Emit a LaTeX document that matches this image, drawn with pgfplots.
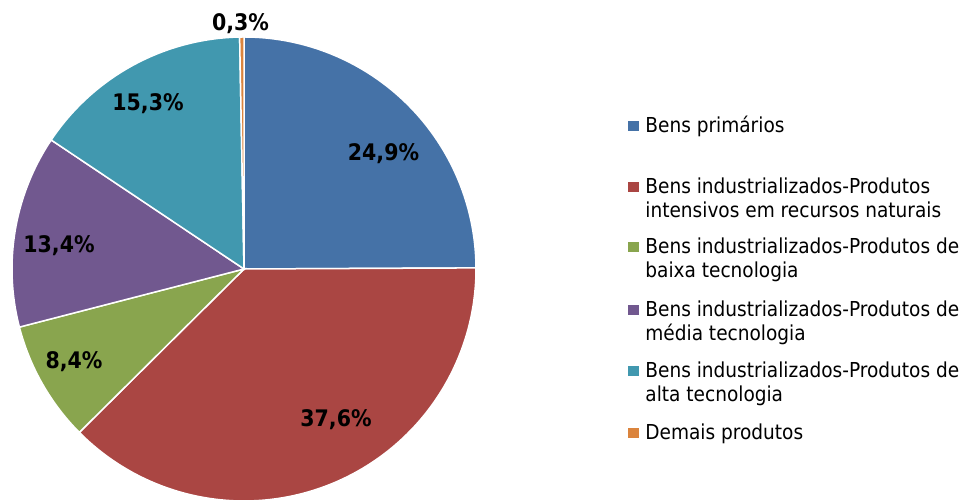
\documentclass[border=0pt]{standalone}
\usepackage{pgfplots}
\pgfplotsset{compat=1.18}
\usepackage{fontspec}
\setmainfont{DejaVu Sans Condensed}
\definecolor{cA}{HTML}{4572A7}
\definecolor{cB}{HTML}{AA4643}
\definecolor{cC}{HTML}{89A54E}
\definecolor{cD}{HTML}{71588F}
\definecolor{cE}{HTML}{4198AF}
\definecolor{cF}{HTML}{DB843D}
% shares (%)
\def\vA{24.9}\def\vB{37.6}\def\vC{8.4}\def\vD{13.4}\def\vE{15.3}\def\vF{0.3}
\begin{document}
\begin{tikzpicture}
\pgfmathsetmacro\tot{\vA+\vB+\vC+\vD+\vE+\vF}
\pgfmathsetmacro\aA{90}
\pgfmathsetmacro\aB{\aA-360*\vA/\tot}
\pgfmathsetmacro\aC{\aB-360*\vB/\tot}
\pgfmathsetmacro\aD{\aC-360*\vC/\tot}
\pgfmathsetmacro\aE{\aD-360*\vD/\tot}
\pgfmathsetmacro\aF{\aE-360*\vE/\tot}
\pgfmathsetmacro\aG{\aF-360*\vF/\tot}
\path[use as bounding box] (0,0) rectangle (482.5pt,249.5pt);
\begin{axis}[
  at={(0,0)}, anchor=south west,
  scale only axis, width=482.5pt, height=249.5pt,
  xmin=0, xmax=965, ymin=0, ymax=499,
  hide axis, clip=true,
  every axis plot/.append style={draw=white, line width=0.75pt, samples=90},
]
\addplot[fill=cA, domain=\aB:\aA] ({244+232*cos(x)},{230+232*sin(x)}) -- (axis cs:244,230) -- cycle;
\addplot[fill=cB, domain=\aC:\aB] ({244+232*cos(x)},{230+232*sin(x)}) -- (axis cs:244,230) -- cycle;
\addplot[fill=cC, domain=\aD:\aC] ({244+232*cos(x)},{230+232*sin(x)}) -- (axis cs:244,230) -- cycle;
\addplot[fill=cD, domain=\aE:\aD] ({244+232*cos(x)},{230+232*sin(x)}) -- (axis cs:244,230) -- cycle;
\addplot[fill=cE, domain=\aF:\aE] ({244+232*cos(x)},{230+232*sin(x)}) -- (axis cs:244,230) -- cycle;
\addplot[fill=cF, domain=\aG:\aF, samples=5] ({244+232*cos(x)},{230+232*sin(x)}) -- (axis cs:244,230) -- cycle;
% data labels
\begin{scope}[every node/.style={font=\fontsize{11.4}{13}\selectfont\bfseries, text=black, inner sep=0pt}]
\node at (axis cs:383.5,345) {24,9\%};
\node at (axis cs:336,79) {37,6\%};
\node at (axis cs:74,137) {8,4\%};
\node at (axis cs:59,253.5) {13,4\%};
\node at (axis cs:148,395) {15,3\%};
\node at (axis cs:240.5,475) {0,3\%};
\end{scope}
% legend squares
\addplot[only marks, mark=square*, mark size=3pt, draw=none, mark options={fill=cA, draw=none}] coordinates {(633.5,373)};
\addplot[only marks, mark=square*, mark size=3pt, draw=none, mark options={fill=cB, draw=none}] coordinates {(633.5,312)};
\addplot[only marks, mark=square*, mark size=3pt, draw=none, mark options={fill=cC, draw=none}] coordinates {(633.5,252)};
\addplot[only marks, mark=square*, mark size=3pt, draw=none, mark options={fill=cD, draw=none}] coordinates {(633.5,189)};
\addplot[only marks, mark=square*, mark size=3pt, draw=none, mark options={fill=cE, draw=none}] coordinates {(633.5,128)};
\addplot[only marks, mark=square*, mark size=3pt, draw=none, mark options={fill=cF, draw=none}] coordinates {(633.5,66)};
\begin{scope}[every node/.style={font=\fontsize{10.3}{12}\selectfont, text=black, inner sep=0pt, anchor=base west}]
\node at (axis cs:645,366) {Bens primários};
\node at (axis cs:645,305) {Bens industrializados-Produtos};
\node at (axis cs:645,281) {intensivos em recursos naturais};
\node at (axis cs:645,245) {Bens industrializados-Produtos de};
\node at (axis cs:645,221) {baixa tecnologia};
\node at (axis cs:645,182) {Bens industrializados-Produtos de};
\node at (axis cs:645,158) {média tecnologia};
\node at (axis cs:645,121) {Bens industrializados-Produtos de};
\node at (axis cs:645,97) {alta tecnologia};
\node at (axis cs:645,59) {Demais produtos};
\end{scope}
\end{axis}
\end{tikzpicture}
\end{document}
